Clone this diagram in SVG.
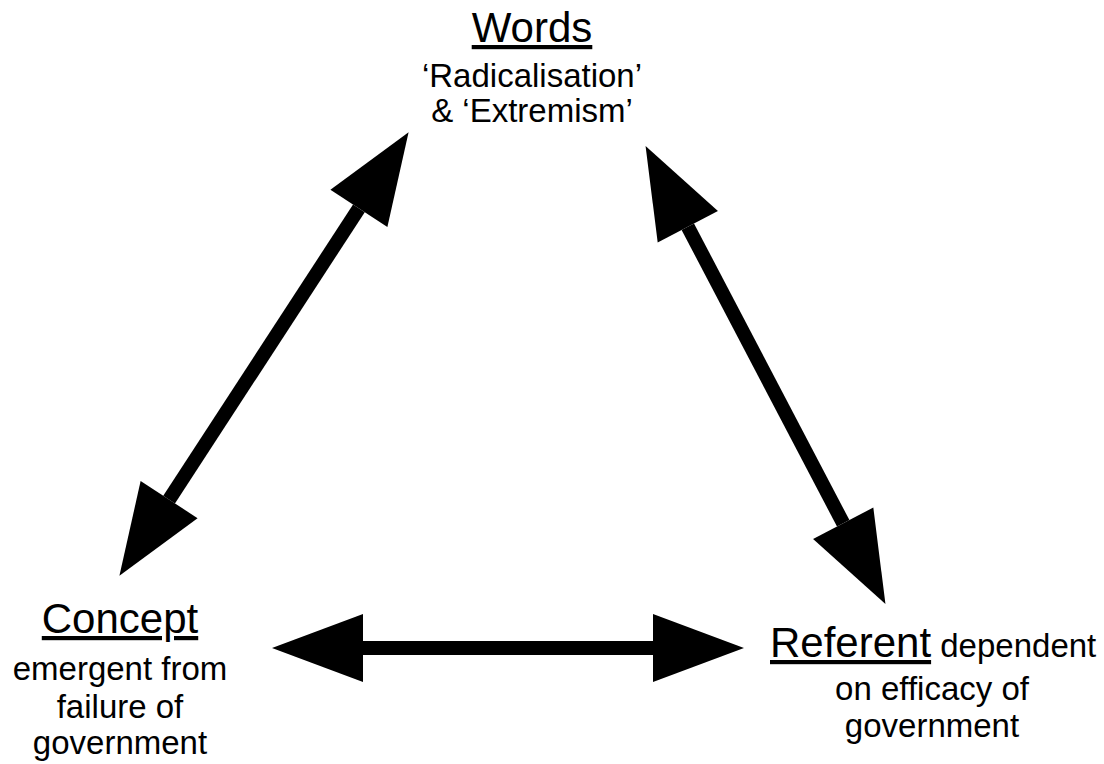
<svg xmlns="http://www.w3.org/2000/svg" width="1104" height="764" viewBox="0 0 1104 764">
  <style>
    text { font-family: "Liberation Sans", Arial, sans-serif; fill: #000; }
    .title { font-size: 42px; text-decoration: underline; }
    .sub { font-size: 33px; }
    .shaft { stroke: #000; stroke-width: 14; fill: none; marker-start: url(#head); marker-end: url(#head); }
  </style>
  <defs>
    <!-- solid triangular head; base sits on the line end -->
    <marker id="head" markerUnits="userSpaceOnUse" viewBox="0 0 92 70" markerWidth="92" markerHeight="70" refX="0" refY="35" orient="auto-start-reverse" overflow="visible">
      <path d="M0,1 L91,35 L0,69 Z" fill="#000"/>
    </marker>
  </defs>

  <g id="connectors">
    <!-- Concept <-> Words -->
    <line class="shaft" x1="169.1" y1="499.6" x2="358.9" y2="208.4"/>
    <!-- Words <-> Referent -->
    <line class="shaft" x1="687.8" y1="226.7" x2="843.2" y2="523.3"/>
    <!-- Concept <-> Referent -->
    <line class="shaft" x1="363" y1="648" x2="653" y2="648"/>
  </g>

  <g id="words">
    <text class="title" x="532" y="42" text-anchor="middle">Words</text>
    <text class="sub" x="532" y="87" text-anchor="middle">‘Radicalisation’</text>
    <text class="sub" x="532" y="122" text-anchor="middle">&amp; ‘Extremism’</text>
  </g>

  <g id="concept">
    <text class="title" x="120" y="633" text-anchor="middle">Concept</text>
    <text class="sub" x="120" y="680" text-anchor="middle">emergent from</text>
    <text class="sub" x="120" y="718" text-anchor="middle">failure of</text>
    <text class="sub" x="120" y="754" text-anchor="middle">government</text>
  </g>

  <g id="referent">
    <text x="770" y="657"><tspan class="title">Referent</tspan><tspan class="sub"> dependent</tspan></text>
    <text class="sub" x="932" y="700" text-anchor="middle">on efficacy of</text>
    <text class="sub" x="932" y="737" text-anchor="middle">government</text>
  </g>
</svg>
